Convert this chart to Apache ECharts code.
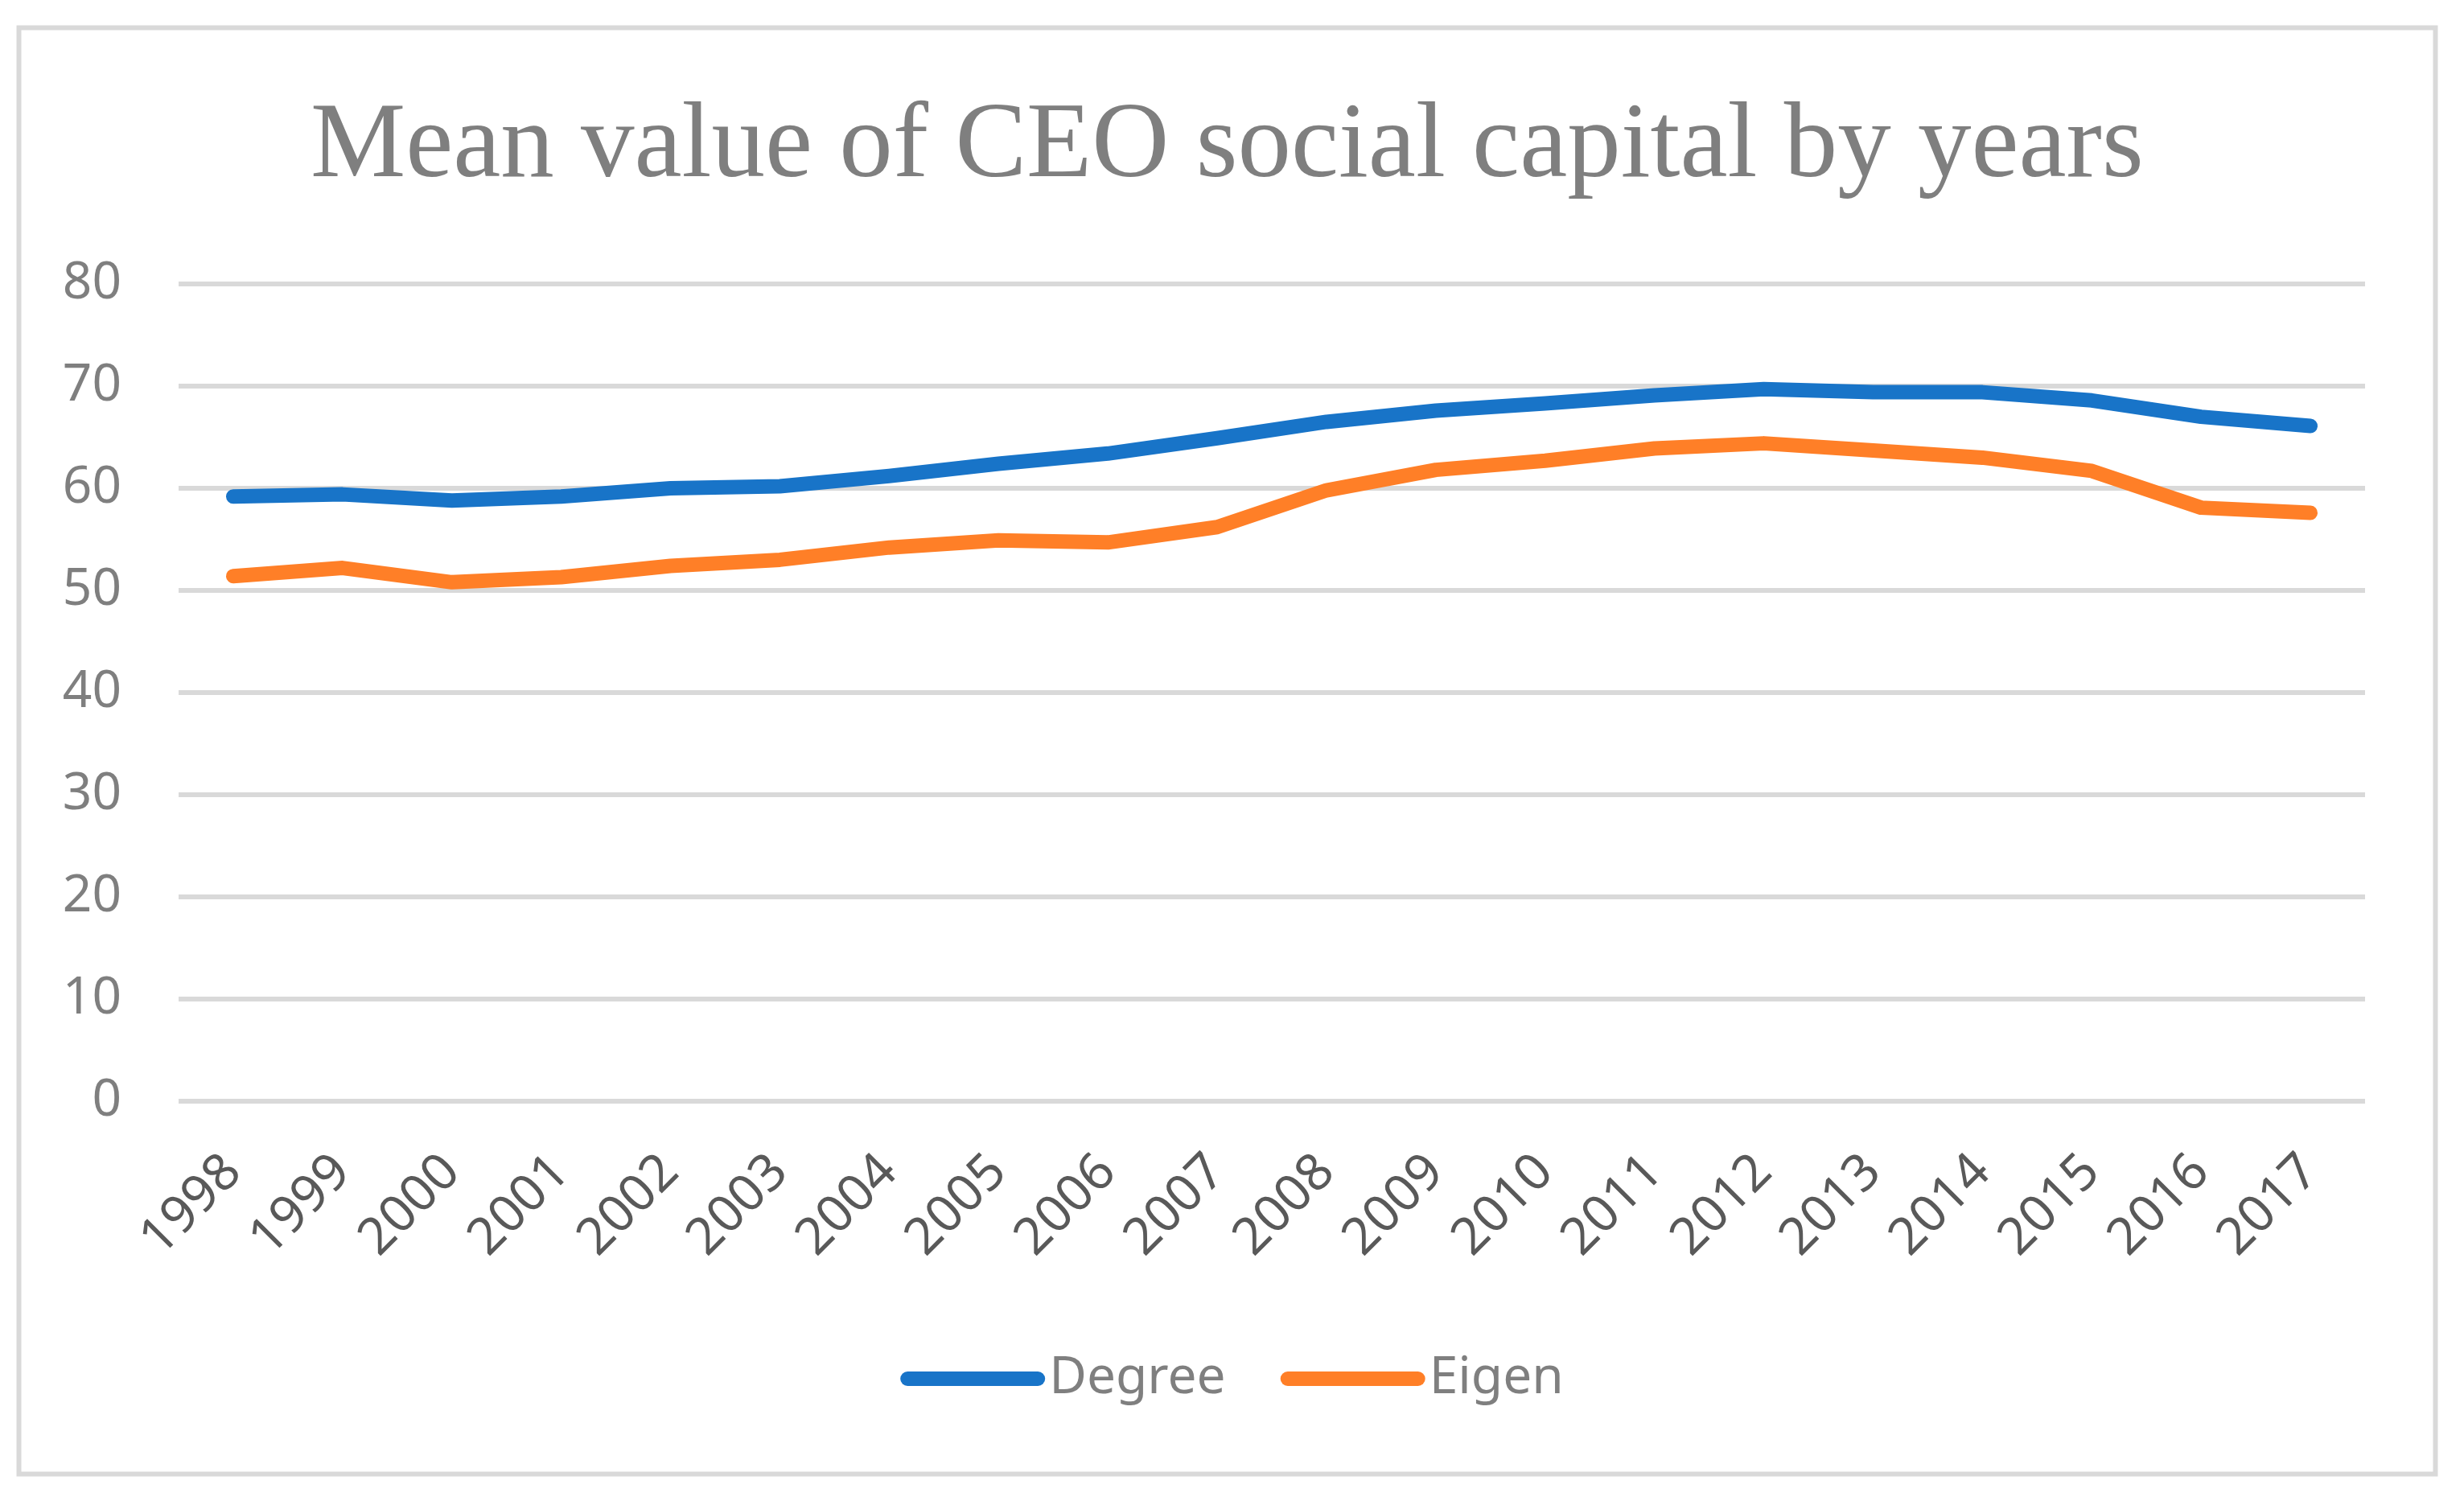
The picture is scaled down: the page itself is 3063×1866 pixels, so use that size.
<!DOCTYPE html>
<html>
<head>
<meta charset="utf-8">
<script src="https://cdn.jsdelivr.net/npm/echarts@6/dist/echarts.min.js"></script>
<style>
html,body{margin:0;padding:0;background:#fff;}
#chart{width:3063px;height:1866px;}
</style>
</head>
<body>
<div id="chart"></div>
<script>
const years = ['1998','1999','2000','2001','2002','2003','2004','2005','2006','2007','2008','2009','2010','2011','2012','2013','2014','2015','2016','2017'];
const degree = [59.2,59.4,58.8,59.2,60.0,60.2,61.2,62.4,63.4,64.9,66.5,67.6,68.3,69.1,69.7,69.4,69.4,68.6,67.0,66.1];
const eigen = [51.4,52.2,50.8,51.3,52.4,53.0,54.2,54.9,54.7,56.2,59.8,61.8,62.7,63.9,64.4,63.7,63.0,61.7,58.1,57.6];
const yTicks = {min:0, max:80, interval:10};
const titleText = 'Mean value of CEO social capital by years';

const chart = echarts.init(document.getElementById('chart'));
const capsule = 'path://M9,0 L171,0 A9,9 0 0 1 171,18 L9,18 A9,9 0 0 1 9,0 Z';
chart.setOption({
  backgroundColor:'#ffffff',
  animation:false,
  graphic:[{
    type:'rect', shape:{x:23.5,y:34.5,width:3004,height:1798},
    style:{fill:'none',stroke:'#d9d9d9',lineWidth:6}, silent:true
  }],
  title:{
    text:titleText, left:381, top:113,
    textStyle:{fontFamily:'Liberation Serif', fontSize:133, fontWeight:'normal', color:'#7f7f7f'}
  },
  legend:{
    top:1677, left:'center', itemWidth:180, itemHeight:18, itemGap:68,
    icon:capsule,
    textStyle:{fontFamily:'Noto Sans', fontSize:64, color:'#7f7f7f'},
    data:['Degree','Eigen']
  },
  grid:{left:222, right:123, top:353, bottom:497, containLabel:false},
  xAxis:{
    type:'category', data:years, boundaryGap:true,
    axisLine:{show:false}, axisTick:{show:false},
    axisLabel:{rotate:45, fontFamily:'Noto Sans', fontSize:64, color:'#595959', margin:78, interval:0}
  },
  yAxis:{
    type:'value', min:yTicks.min, max:yTicks.max, interval:yTicks.interval,
    axisLine:{show:false}, axisTick:{show:false},
    axisLabel:{fontFamily:'Noto Sans', fontSize:64, color:'#7f7f7f', margin:71},
    splitLine:{lineStyle:{color:'#d9d9d9', width:6}}
  },
  series:[
    {name:'Degree', type:'line', data:degree, showSymbol:false, symbol:'none',
     lineStyle:{color:'#1874c8', width:18, cap:'round', join:'round'}, itemStyle:{color:'#1874c8'}},
    {name:'Eigen', type:'line', data:eigen, showSymbol:false, symbol:'none',
     lineStyle:{color:'#ff7f27', width:18, cap:'round', join:'round'}, itemStyle:{color:'#ff7f27'}}
  ]
});
</script>
</body>
</html>
